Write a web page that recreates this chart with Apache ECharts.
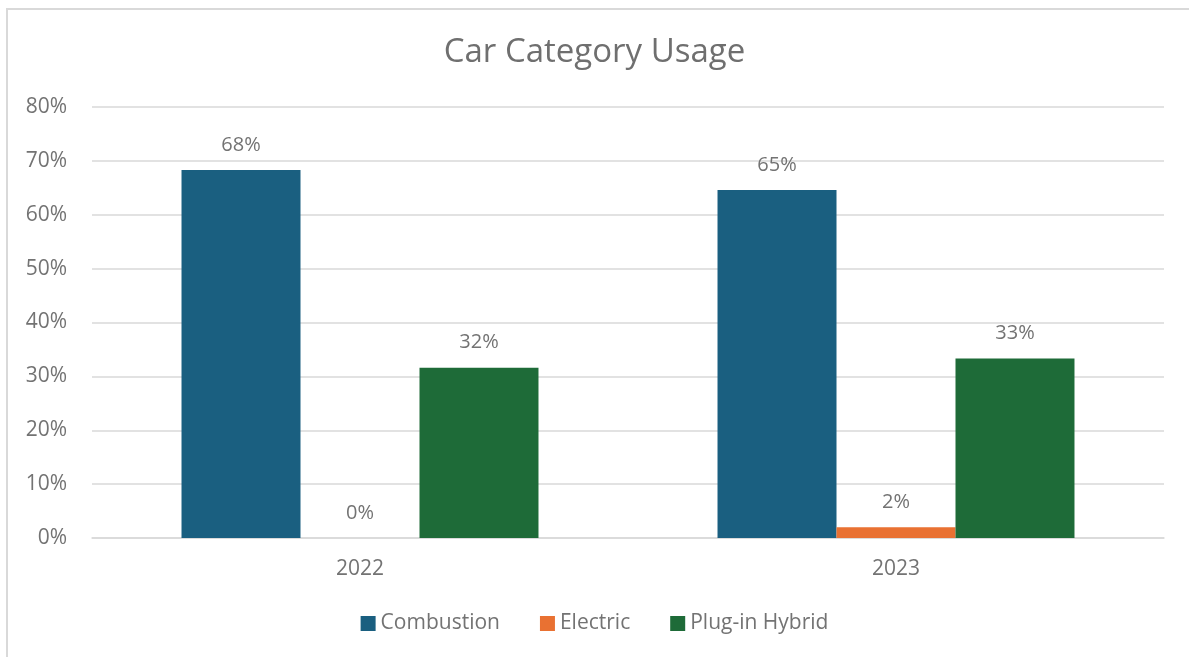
<!DOCTYPE html>
<html>
<head>
<meta charset="utf-8">
<script src="https://cdn.jsdelivr.net/npm/echarts@6/dist/echarts.min.js"></script>
<style>
  html, body { margin: 0; padding: 0; background: #ffffff; }
  #frame { position: absolute; left: 6px; top: 8px; width: 1189px; height: 657px; border-left: 2px solid #d9d9d9; border-top: 2px solid #d9d9d9; box-sizing: border-box; }
  #chart { position: absolute; left: 0; top: 0; width: 1189px; height: 657px; }
</style>
</head>
<body>
<div id="frame"></div>
<div id="chart"></div>
<script>
// Share of cars by drive type, per year
const years = ['2022', '2023'];
const combustion = [68.3, 64.6];
const electric = [0, 2.0];
const plugInHybrid = [31.6, 33.3];
const yTicks = [0, 10, 20, 30, 40, 50, 60, 70, 80];

const FONT = '"Open Sans", "Noto Sans", sans-serif';
const TEXT = '#737373';

const chart = echarts.init(document.getElementById('chart'), null, { renderer: 'canvas' });

function barSeries(name, data, color) {
  return {
    name: name,
    type: 'bar',
    data: data,
    barGap: '0%',
    barCategoryGap: '33.4%',
    itemStyle: { color: color },
    label: {
      show: true,
      position: 'top',
      distance: 15,
      color: TEXT,
      fontFamily: FONT,
      fontSize: 20,
      formatter: p => Math.round(p.value) + '%'
    }
  };
}

chart.setOption({
  animation: false,
  backgroundColor: 'transparent',
  title: {
    text: 'Car Category Usage',
    left: 'center',
    top: 31,
    textStyle: { color: '#6f6f6f', fontFamily: FONT, fontSize: 33, fontWeight: 'normal' }
  },
  legend: {
    bottom: 18,
    left: 'center',
    itemWidth: 15,
    itemHeight: 15,
    itemGap: 40,
    icon: 'rect',
    textStyle: { color: TEXT, fontFamily: FONT, fontSize: 21 },
    data: ['Combustion', 'Electric', 'Plug-in Hybrid']
  },
  grid: { left: 92, right: 25, top: 107, bottom: 119, containLabel: false },
  xAxis: {
    type: 'category',
    data: years,
    axisTick: { show: false },
    axisLine: { show: true, lineStyle: { color: '#d9d9d9', width: 1.5 } },
    axisLabel: { color: TEXT, fontFamily: FONT, fontSize: 21, margin: 21 }
  },
  yAxis: {
    type: 'value',
    min: yTicks[0],
    max: yTicks[yTicks.length - 1],
    interval: 10,
    axisLine: { show: false },
    axisTick: { show: false },
    splitLine: { lineStyle: { color: '#d9d9d9', width: 1.5 } },
    axisLabel: { color: TEXT, fontFamily: FONT, fontSize: 21, margin: 25, formatter: v => v + '%' }
  },
  series: [
    barSeries('Combustion', combustion, '#1a5f80'),
    barSeries('Electric', electric, '#e97132'),
    barSeries('Plug-in Hybrid', plugInHybrid, '#1e6b38')
  ]
});
</script>
</body>
</html>
